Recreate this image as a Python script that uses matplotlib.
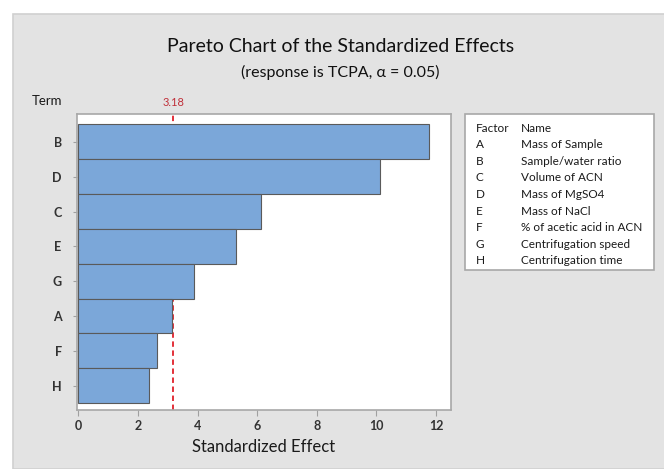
import matplotlib.pyplot as plt
from matplotlib.patches import Rectangle

plt.rcParams['font.family'] = ['Lato', 'DejaVu Sans']

terms = ['B', 'D', 'C', 'E', 'G', 'A', 'F', 'H']
effects = [11.77, 10.13, 6.12, 5.30, 3.89, 3.13, 2.65, 2.36]
threshold = 3.18
factors = ['A', 'B', 'C', 'D', 'E', 'F', 'G', 'H']
names = ['Mass of Sample', 'Sample/water ratio', 'Volume of ACN', 'Mass of MgSO4',
         'Mass of NaCl', '% of acetic acid in ACN', 'Centrifugation speed',
         'Centrifugation time']

fig = plt.figure(figsize=(6.64, 4.69), dpi=100)
fig.patch.set_facecolor('white')
# grey panel behind everything
fig.patches.append(Rectangle((13 / 664, 0), 1, 1 - 14 / 469, transform=fig.transFigure,
                             facecolor='#e3e3e3', edgecolor='#d0d0d0', lw=1.2, zorder=-5))

ax = fig.add_axes([77 / 664, 1 - 410 / 469, 374 / 664, 296 / 469])
ax.set_facecolor('white')
pos = list(range(len(terms)))
ax.barh(pos, effects, height=1.0, color='#7ba7d9', edgecolor='#5a5a5a', lw=0.8, zorder=3)
ax.axvline(threshold, color='#e0202a', ls=(0, (3, 2)), lw=1.3, zorder=2)
ax.set_ylim(7.7, -0.8)
ax.set_xlim(-0.05, 12.5)
ax.set_yticks(pos)
ax.set_yticklabels(terms, fontsize=9, fontweight='bold', color='#333333')
ax.set_xticks(range(0, 13, 2))
ax.set_xticklabels([str(v) for v in range(0, 13, 2)], fontweight='bold')
ax.tick_params(axis='x', labelsize=9, colors='#333333', length=4, color='#a0a0a0')
ax.tick_params(axis='y', length=3, color='#a0a0a0', pad=8)
for s in ax.spines.values():
    s.set_color('#a8a8a8')
    s.set_linewidth(1.2)
ax.set_xlabel('Standardized Effect', fontsize=12, color='#1a1a1a', labelpad=5)

# red label for the threshold
ax.text(threshold, 1.02, '3.18', transform=ax.get_xaxis_transform(), color='#c0303a',
        fontsize=8, ha='center', va='bottom')
fig.text(47 / 664, 1 - 101 / 469, 'Term', fontsize=9.5, color='#1a1a1a', ha='center', va='center')

fig.text(341 / 664, 1 - 47 / 469, 'Pareto Chart of the Standardized Effects',
         fontsize=14, ha='center', va='center', color='#111111')
fig.text(340 / 664, 1 - 72 / 469, '(response is TCPA, \u03b1 = 0.05)',
         fontsize=11.5, ha='center', va='center', color='#111111')

# factor / name table
fig.patches.append(Rectangle((465 / 664, 1 - 270 / 469), 189 / 664, 156 / 469,
                             transform=fig.transFigure, facecolor='white',
                             edgecolor='#a8a8a8', lw=1.2, zorder=1))
row0 = 128
step = 16.6
fs = 8.5
fig.text(476 / 664, 1 - row0 / 469, 'Factor', fontsize=fs, va='center', color='#1a1a1a')
fig.text(521 / 664, 1 - row0 / 469, 'Name', fontsize=fs, va='center', color='#1a1a1a')
for i, (f, n) in enumerate(zip(factors, names)):
    y = 1 - (row0 + step * (i + 1)) / 469
    fig.text(476 / 664, y, f, fontsize=fs, va='center', color='#1a1a1a')
    fig.text(521 / 664, y, n, fontsize=fs, va='center', color='#1a1a1a')

fig.savefig('out.png', dpi=100)
